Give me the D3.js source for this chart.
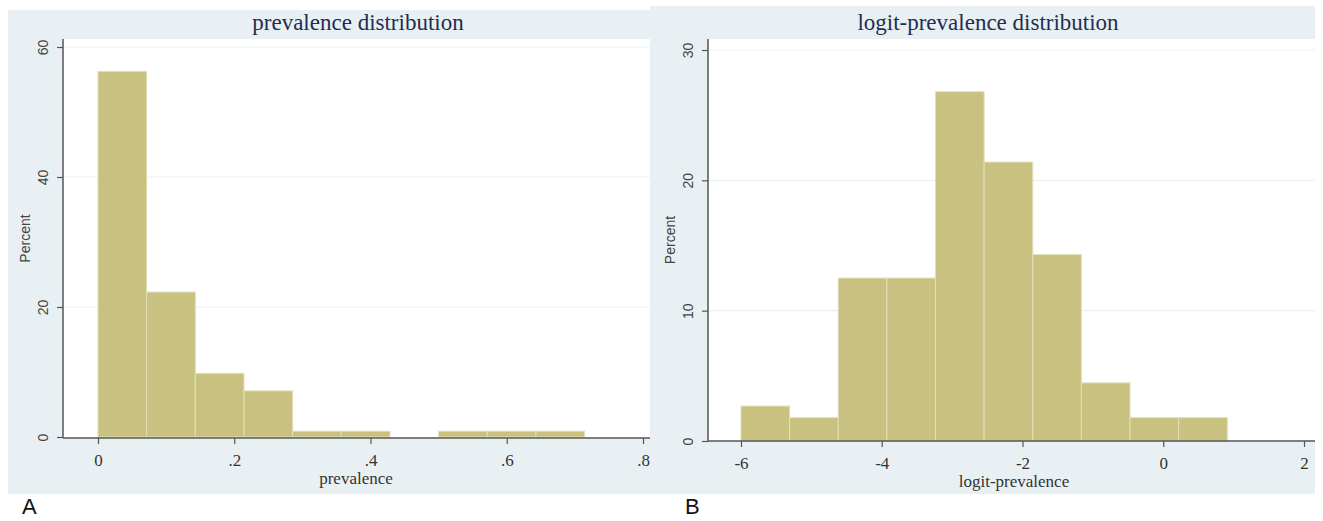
<!DOCTYPE html>
<html>
<head>
<meta charset="utf-8">
<script src="https://cdn.jsdelivr.net/npm/d3@7"></script>
<style>
  body { margin: 0; background: #fff; }
  svg { display: block; }
  .ylab { font-family: "Liberation Sans", Arial, sans-serif; font-size: 14px; fill: #444; }
  .xlab { font-family: "Liberation Serif", "Times New Roman", serif; font-size: 17px; fill: #333; }
  .ttl { font-family: "Liberation Serif", "Times New Roman", serif; font-size: 23px; fill: #1f2d52; }
  .panel { font-family: "Liberation Sans", Arial, sans-serif; font-size: 22px; fill: #111; }
</style>
</head>
<body>
<svg id="chart" width="1323" height="521"></svg>
<script>
// histogram A: prevalence (10 bins of width 1/14 starting at 0)
var prevStart = 0
var prevWidth = 1 / 14
var prevPercent = [56.25, 22.3, 9.8, 7.1, 0.89, 0.89, 0, 0.89, 0.89, 0.89]
var prevXTicks = [0, 0.2, 0.4, 0.6, 0.8]
var prevYTicks = [0, 20, 40, 60]

// histogram B: logit-prevalence (10 bins starting at -6)
var logitStart = -6
var logitWidth = 0.691
var logitPercent = [2.68, 1.79, 12.5, 12.5, 26.8, 21.4, 14.3, 4.46, 1.79, 1.79]
var logitXTicks = [-6, -4, -2, 0, 2]
var logitYTicks = [0, 10, 20, 30]

var svg = d3.select("#chart")

function fmtDec(v) {
    // stata style: .2 rather than 0.2
    if (v === 0) return "0"
    return String(v).replace(/^0\./, ".").replace(/^-0\./, "-.")
}

function histogram(opt) {
    var g = svg.append("g")

    // outer graph region
    g.append("rect")
        .attr("x", opt.bg[0]).attr("y", opt.bg[1])
        .attr("width", opt.bg[2]).attr("height", opt.bg[3])
        .attr("fill", "#e9f0f3")

    // plot region
    g.append("rect")
        .attr("x", opt.plot[0]).attr("y", opt.plot[1])
        .attr("width", opt.plot[2]).attr("height", opt.plot[3])
        .attr("fill", "#fff")

    var x = d3.scaleLinear().domain(opt.xDomain).range(opt.xRange)
    var y = d3.scaleLinear().domain(opt.yDomain).range(opt.yRange)
    var left = opt.plot[0], right = opt.plot[0] + opt.plot[2]
    var bottom = opt.plot[1] + opt.plot[3]

    // gridlines
    g.selectAll("line.grid")
        .data(opt.yTicks.filter(function (d) { return d > 0 }))
        .enter().append("line")
        .attr("class", "grid")
        .attr("x1", left).attr("x2", right)
        .attr("y1", function (d) { return y(d) }).attr("y2", function (d) { return y(d) })
        .attr("stroke", "#eaf2f3").attr("stroke-width", 1.2)

    // bars
    var bins = opt.values.map(function (v, i) {
        return { x0: opt.start + i * opt.width, x1: opt.start + (i + 1) * opt.width, value: v }
    }).filter(function (d) { return d.value > 0 })

    g.selectAll("rect.bar")
        .data(bins)
        .enter().append("rect")
        .attr("class", "bar")
        .attr("x", function (d) { return x(d.x0) })
        .attr("width", function (d) { return x(d.x1) - x(d.x0) })
        .attr("y", function (d) { return y(d.value) })
        .attr("height", function (d) { return y(0) - y(d.value) })
        .attr("fill", "#c9c17f")
        .attr("stroke", "#e2dfb8")
        .attr("stroke-width", 1)

    // y axis
    var yAxis = g.append("g")
        .attr("transform", "translate(" + left + ",0)")
        .call(d3.axisLeft(y).tickValues(opt.yTicks).tickSize(6).tickPadding(10).tickFormat(d3.format("d")))
    yAxis.select(".domain").attr("d", "M0," + opt.plot[1] + "V" + bottom).attr("stroke", "#555").attr("stroke-width", 1.5)
    yAxis.selectAll(".tick line").attr("stroke", "#555").attr("stroke-width", 1.2)
    yAxis.selectAll(".tick text")
        .attr("class", "ylab")
        .attr("font-family", null).attr("font-size", null)
        .attr("fill", null)
        .attr("x", null)
        .attr("text-anchor", "middle")
        .attr("transform", "translate(-15,0) rotate(-90)")
        .attr("dy", "0")

    // x axis
    var xAxis = g.append("g")
        .attr("transform", "translate(0," + bottom + ")")
        .call(d3.axisBottom(x).tickValues(opt.xTicks).tickSize(6).tickPadding(10).tickFormat(fmtDec))
    xAxis.select(".domain").attr("d", "M" + left + ",0H" + right).attr("stroke", "#555").attr("stroke-width", 1.5)
    xAxis.selectAll(".tick line").attr("stroke", "#555").attr("stroke-width", 1.2)
    xAxis.selectAll(".tick text")
        .attr("class", "xlab")
        .attr("font-family", null).attr("font-size", null).attr("fill", null)

    // titles
    g.append("text").attr("class", "ttl")
        .attr("x", opt.titleX).attr("y", 30)
        .attr("text-anchor", "middle")
        .text(opt.title)

    g.append("text").attr("class", "xlab")
        .attr("x", opt.xLabelX).attr("y", bottom + 46)
        .attr("text-anchor", "middle")
        .text(opt.xLabel)

    g.append("text").attr("class", "ylab")
        .attr("transform", "translate(" + (left - 33) + "," + ((opt.plot[1] + bottom) / 2) + ") rotate(-90)")
        .attr("text-anchor", "middle")
        .text("Percent")

    g.append("text").attr("class", "panel")
        .attr("x", opt.panelX).attr("y", 514)
        .text(opt.panel)
}

histogram({
    bg: [8, 10, 642, 484],
    plot: [63, 39, 587, 399],
    xDomain: [0, 0.8], xRange: [98, 643],
    yDomain: [0, 60], yRange: [437, 47],
    start: prevStart, width: prevWidth, values: prevPercent,
    xTicks: prevXTicks, yTicks: prevYTicks,
    title: "prevalence distribution", titleX: 358,
    xLabel: "prevalence", xLabelX: 356,
    panel: "A", panelX: 22
})

histogram({
    bg: [650, 6, 665, 488],
    plot: [708, 39, 607, 402],
    xDomain: [-6, 2], xRange: [741, 1304],
    yDomain: [0, 30], yRange: [441, 50],
    start: logitStart, width: logitWidth, values: logitPercent,
    xTicks: logitXTicks, yTicks: logitYTicks,
    title: "logit-prevalence distribution", titleX: 988,
    xLabel: "logit-prevalence", xLabelX: 1014,
    panel: "B", panelX: 685
})
</script>
</body>
</html>
